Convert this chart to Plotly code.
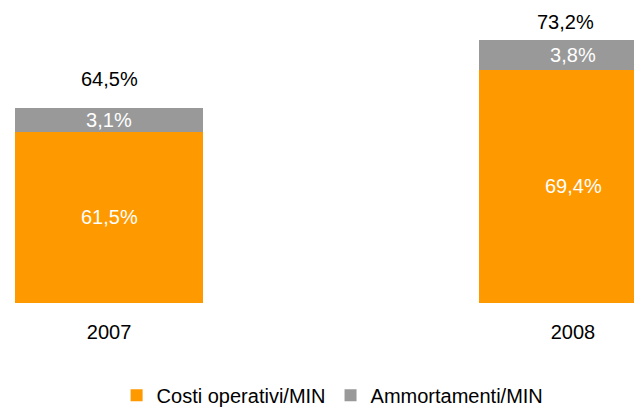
import plotly.graph_objects as go

# dati
anni = ["2007", "2008"]
costi_operativi = [61.5, 69.4]
ammortamenti = [3.1, 3.8]
totali_etichette = ["64,5%", "73,2%"]

ARANCIO = "#FF9900"
GRIGIO = "#999999"
FONT = "Liberation Sans, Arial, sans-serif"
Y_MIN, Y_MAX = 39.7, 77.3  # l'asse non parte da zero


def fmt(v):
    return f"{v:.1f}%".replace(".", ",")


fig = go.Figure()
fig.add_trace(go.Bar(
    x=anni, y=costi_operativi, name="Costi operativi/MIN",
    marker=dict(color=ARANCIO, line=dict(width=0)),
    textposition="none",
    width=0.405,
))
fig.add_trace(go.Bar(
    x=anni, y=ammortamenti, name="Ammortamenti/MIN",
    marker=dict(color=GRIGIO, line=dict(width=0)),
    text=[fmt(v) for v in ammortamenti], textposition="inside",
    insidetextanchor="middle", constraintext="none",
    textfont=dict(color="white", size=20, family=FONT),
    width=0.405,
))

# etichette dentro la parte visibile delle colonne arancioni
for i, c in enumerate(costi_operativi):
    fig.add_annotation(
        x=i, y=(max(0, Y_MIN) + c) / 2, xref="x", yref="y",
        text=fmt(c), showarrow=False,
        yanchor="middle", font=dict(color="white", size=20, family=FONT),
    )

# etichette dei totali sopra le colonne
spostamenti_y = [29, 18]
spostamenti_x = [0, -8]
for i, (c, a, lab, dy, dx) in enumerate(zip(costi_operativi, ammortamenti, totali_etichette,
                                             spostamenti_y, spostamenti_x)):
    fig.add_annotation(
        x=i, y=c + a, xref="x", yref="y",
        text=lab, showarrow=False,
        yanchor="middle", yshift=dy, xshift=dx,
        font=dict(color="black", size=20, family=FONT),
    )

fig.update_layout(
    width=634, height=401,
    barmode="stack",
    paper_bgcolor="white", plot_bgcolor="white",
    margin=dict(l=0, r=0, t=0, b=106, autoexpand=False),
    font=dict(family=FONT, size=20, color="black"),
    legend=dict(
        orientation="h", traceorder="normal",
        x=0.512, xanchor="center",
        y=-0.313, yanchor="middle",
        font=dict(size=20), itemclick=False,
    ),
    xaxis=dict(
        type="category", range=[-0.2177, 1.1487],
        showgrid=False, showline=False, zeroline=False,
        ticks="outside", ticklen=11, tickcolor="rgba(0,0,0,0)",
        tickfont=dict(size=20),
    ),
    yaxis=dict(
        range=[Y_MIN, Y_MAX], showticklabels=False,
        showgrid=False, zeroline=False, showline=False,
    ),
)

fig.write_html("out.html")
